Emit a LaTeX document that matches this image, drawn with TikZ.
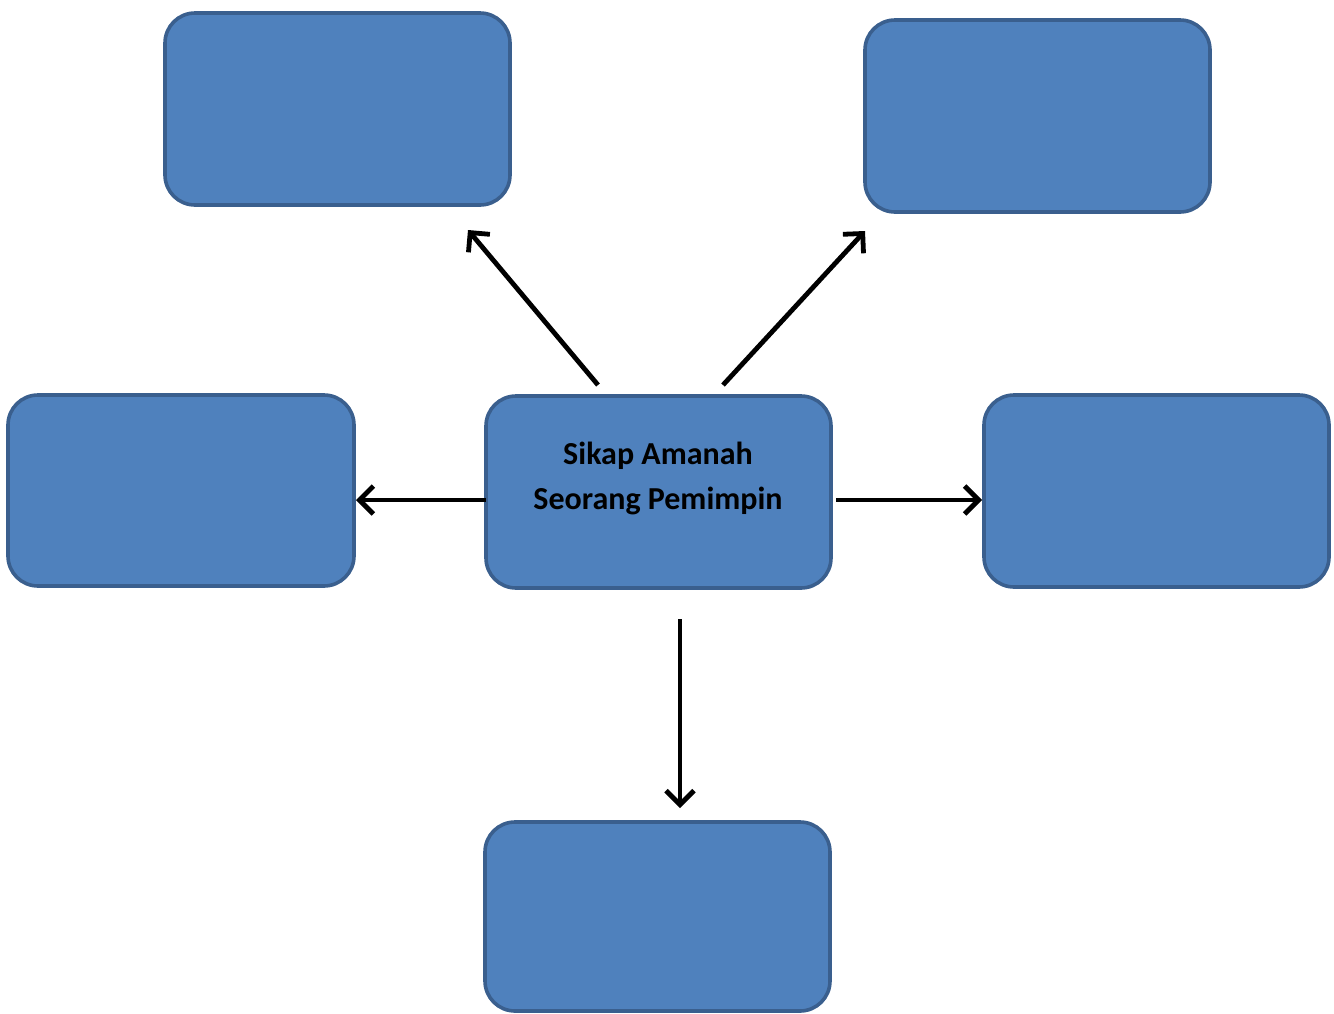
\documentclass[tikz,border=0pt]{standalone}
\usepackage{fontspec}
\setmainfont{Carlito}
\usetikzlibrary{arrows.meta}
\definecolor{boxfill}{HTML}{4F81BD}
\definecolor{boxline}{HTML}{3A5F8E}
\begin{document}
\begin{tikzpicture}[x=0.5pt,y=-0.5pt,
  blbox/.style={draw=boxline, line width=1.8pt, fill=boxfill, rounded corners=15pt},
  conn/.style={line width=2.4pt, -{Straight Barb[length=7pt,width=14pt,line width=2.4pt]}},
  lbl/.style={font=\bfseries\fontsize{16}{22.5}\selectfont, align=center, text=black}]
\useasboundingbox (0,0) rectangle (1334,1013);
\draw[blbox] (165,13) rectangle (510,205);
\node[inner sep=0] (tl) at (337.5,109) {};
\draw[blbox] (865,20) rectangle (1210,212);
\node[inner sep=0] (tr) at (1037.5,116) {};
\draw[blbox] (8,395) rectangle (354,586);
\node[inner sep=0] (l) at (181,490.5) {};
\draw[blbox] (486,396) rectangle (831,588);
\node[lbl] (c) at (658,478) {Sikap Amanah\\Seorang Pemimpin};
\draw[blbox] (984,395) rectangle (1329,587);
\node[inner sep=0] (r) at (1156.5,491) {};
\draw[blbox] (485,822) rectangle (830,1011);
\node[inner sep=0] (b) at (657.5,916) {};
\coordinate (a1s) at (598,385);
\coordinate (a1e) at (468,230);
\coordinate (a2s) at (723,385);
\coordinate (a2e) at (865,231);
\coordinate (a3s) at (486,500);
\coordinate (a3e) at (356,500);
\coordinate (a4s) at (836,500);
\coordinate (a4e) at (982,500);
\coordinate (a5s) at (680,619);
\coordinate (a5e) at (680,808);
\draw[conn] (a1s) -- (a1e);
\draw[conn] (a2s) -- (a2e);
\draw[conn] (a3s) -- (a3e);
\draw[conn] (a4s) -- (a4e);
\draw[conn] (a5s) -- (a5e);
\end{tikzpicture}
\end{document}
